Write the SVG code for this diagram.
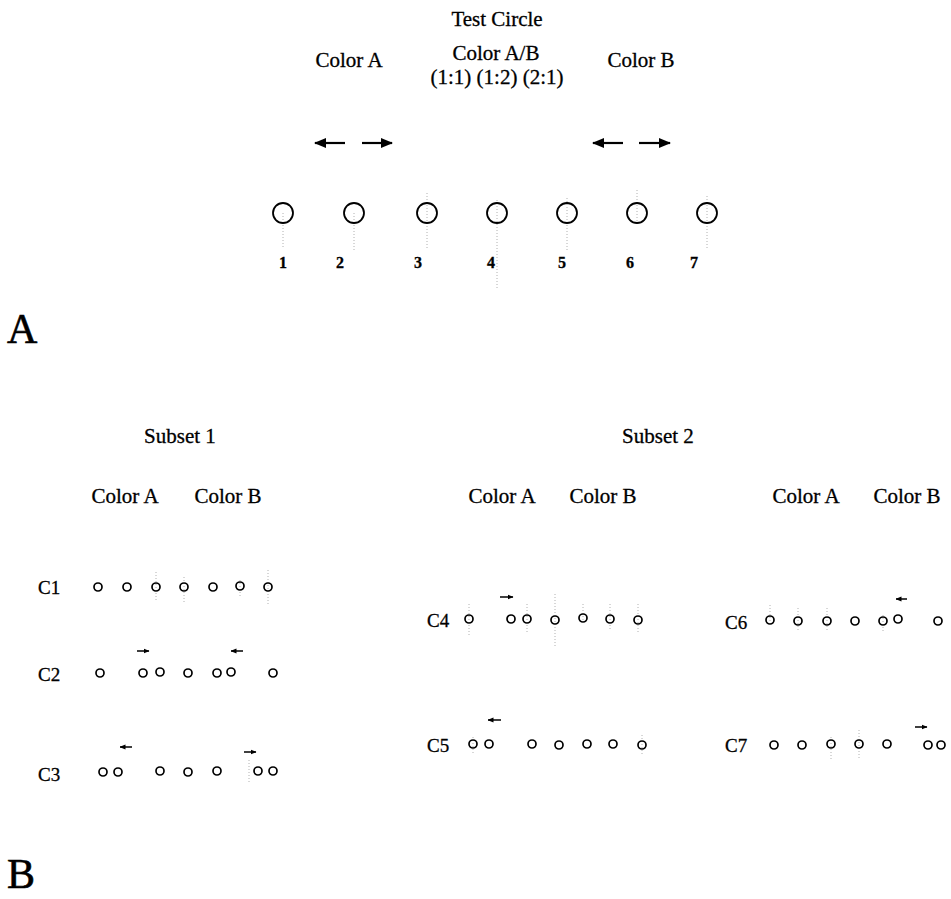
<svg xmlns="http://www.w3.org/2000/svg" width="951" height="899" viewBox="0 0 951 899">
<style>
text{font-family:"Liberation Serif","Times New Roman",serif;fill:#000;stroke:#000;stroke-width:0.3}
.lbl{font-size:21px;text-anchor:middle}
.num{font-size:16px;font-weight:bold;text-anchor:middle}
.row{font-size:19px}
.big{font-size:42px;stroke-width:0.6}
.c{fill:none;stroke:#000;stroke-width:1.8}
.s{fill:none;stroke:#000;stroke-width:1.7}
.dot{stroke:#b0b0b0;stroke-width:1;stroke-dasharray:1 2}
.arB{stroke:#000;stroke-width:2.2;marker-end:url(#hb)}
.arS{stroke:#000;stroke-width:1.5;marker-end:url(#hs)}
</style>
<defs>
<marker id="hb" markerUnits="userSpaceOnUse" markerWidth="12" markerHeight="10" refX="11" refY="5" orient="auto"><path d="M0,0 L12,5 L0,10 Z" fill="#000"/></marker>
<marker id="hs" markerUnits="userSpaceOnUse" markerWidth="6" markerHeight="6" refX="5.5" refY="3" orient="auto"><path d="M0,0.5 L6,3 L0,5.5 Z" fill="#000"/></marker>
</defs>
<rect width="951" height="899" fill="#fff"/>

<!-- Panel A -->
<g id="panelA-labels">
<text class="lbl" x="497" y="26">Test Circle</text>
<text class="lbl" x="349" y="67">Color A</text>
<text class="lbl" x="496" y="60">Color A/B</text>
<text class="lbl" x="497" y="84">(1:1) (1:2) (2:1)</text>
<text class="lbl" x="641" y="67">Color B</text>
</g>
<g id="panelA-arrows">
<line class="arB" x1="345" y1="143" x2="315" y2="143"/>
<line class="arB" x1="362" y1="143" x2="392" y2="143"/>
<line class="arB" x1="623" y1="143" x2="593" y2="143"/>
<line class="arB" x1="639" y1="143" x2="670" y2="143"/>
</g>
<g id="panelA-guides">
<line class="dot" x1="283" y1="213" x2="283" y2="247"/>
<line class="dot" x1="354" y1="213" x2="354" y2="250"/>
<line class="dot" x1="427" y1="193" x2="427" y2="248"/>
<line class="dot" x1="497" y1="200" x2="497" y2="290"/>
<line class="dot" x1="567" y1="198" x2="567" y2="252"/>
<line class="dot" x1="637" y1="190" x2="637" y2="222"/>
<line class="dot" x1="707" y1="196" x2="707" y2="248"/>
</g>
<g id="panelA-circles">
<circle class="c" cx="283" cy="213" r="10"/>
<circle class="c" cx="354" cy="213" r="10"/>
<circle class="c" cx="427" cy="213" r="10"/>
<circle class="c" cx="497" cy="213" r="10"/>
<circle class="c" cx="567" cy="213" r="10"/>
<circle class="c" cx="637" cy="213" r="10"/>
<circle class="c" cx="707" cy="213" r="10"/>
</g>
<g id="panelA-numbers">
<text class="num" x="283" y="268">1</text>
<text class="num" x="340" y="268">2</text>
<text class="num" x="418" y="268">3</text>
<text class="num" x="491" y="268">4</text>
<text class="num" x="562" y="268">5</text>
<text class="num" x="630" y="268">6</text>
<text class="num" x="694" y="268">7</text>
</g>
<text class="big" x="7" y="343">A</text>

<!-- Panel B -->
<g id="panelB-headings">
<text class="lbl" x="180" y="443">Subset 1</text>
<text class="lbl" x="658" y="443">Subset 2</text>
<text class="lbl" x="125" y="503">Color A</text>
<text class="lbl" x="228" y="503">Color B</text>
<text class="lbl" x="502" y="503">Color A</text>
<text class="lbl" x="603" y="503">Color B</text>
<text class="lbl" x="806" y="503">Color A</text>
<text class="lbl" x="907" y="503">Color B</text>
</g>

<g id="C1">
<text class="row" x="38" y="594">C1</text>
<line class="dot" x1="156" y1="572" x2="156" y2="600"/>
<line class="dot" x1="184" y1="577" x2="184" y2="602"/>
<line class="dot" x1="240" y1="580" x2="240" y2="598"/>
<line class="dot" x1="268" y1="570" x2="268" y2="604"/>
<circle class="s" cx="98" cy="587" r="4"/>
<circle class="s" cx="127" cy="587" r="4"/>
<circle class="s" cx="156" cy="587" r="4"/>
<circle class="s" cx="184" cy="587" r="4"/>
<circle class="s" cx="213" cy="587" r="4"/>
<circle class="s" cx="240" cy="586" r="4"/>
<circle class="s" cx="268" cy="587" r="4"/>
</g>

<g id="C2">
<text class="row" x="38" y="681">C2</text>
<line class="arS" x1="137" y1="651" x2="149" y2="651"/>
<line class="arS" x1="243" y1="651" x2="231" y2="651"/>
<circle class="s" cx="100" cy="673" r="4"/>
<circle class="s" cx="143" cy="673" r="4"/>
<circle class="s" cx="160" cy="672" r="4"/>
<circle class="s" cx="188" cy="673" r="4"/>
<circle class="s" cx="217" cy="673" r="4"/>
<circle class="s" cx="231" cy="672" r="4"/>
<circle class="s" cx="273" cy="673" r="4"/>
</g>

<g id="C3">
<text class="row" x="38" y="781">C3</text>
<line class="arS" x1="132" y1="747" x2="120" y2="747"/>
<line class="arS" x1="244" y1="752" x2="256" y2="752"/>
<line class="dot" x1="249" y1="760" x2="249" y2="782"/>
<circle class="s" cx="103" cy="772" r="4"/>
<circle class="s" cx="118" cy="772" r="4"/>
<circle class="s" cx="160" cy="771" r="4"/>
<circle class="s" cx="188" cy="772" r="4"/>
<circle class="s" cx="217" cy="771" r="4"/>
<circle class="s" cx="258" cy="771" r="4"/>
<circle class="s" cx="273" cy="771" r="4"/>
</g>

<g id="C4">
<text class="row" x="427" y="627">C4</text>
<line class="arS" x1="500" y1="597" x2="513" y2="597"/>
<line class="dot" x1="469" y1="604" x2="469" y2="635"/>
<line class="dot" x1="527" y1="604" x2="527" y2="633"/>
<line class="dot" x1="555" y1="594" x2="555" y2="646"/>
<line class="dot" x1="583" y1="604" x2="583" y2="622"/>
<line class="dot" x1="610" y1="604" x2="610" y2="630"/>
<line class="dot" x1="638" y1="604" x2="638" y2="633"/>
<circle class="s" cx="469" cy="619" r="4"/>
<circle class="s" cx="511" cy="619" r="4"/>
<circle class="s" cx="527" cy="619" r="4"/>
<circle class="s" cx="555" cy="620" r="4"/>
<circle class="s" cx="583" cy="618" r="4"/>
<circle class="s" cx="610" cy="619" r="4"/>
<circle class="s" cx="638" cy="620" r="4"/>
</g>

<g id="C5">
<text class="row" x="427" y="752">C5</text>
<line class="arS" x1="501" y1="720" x2="488" y2="720"/>
<line class="dot" x1="473" y1="737" x2="473" y2="753"/>
<line class="dot" x1="642" y1="735" x2="642" y2="756"/>
<circle class="s" cx="473" cy="744" r="4"/>
<circle class="s" cx="489" cy="744" r="4"/>
<circle class="s" cx="532" cy="744" r="4"/>
<circle class="s" cx="559" cy="745" r="4"/>
<circle class="s" cx="587" cy="744" r="4"/>
<circle class="s" cx="613" cy="744" r="4"/>
<circle class="s" cx="642" cy="745" r="4"/>
</g>

<g id="C6">
<text class="row" x="725" y="629">C6</text>
<line class="arS" x1="907" y1="599" x2="896" y2="599"/>
<line class="dot" x1="770" y1="605" x2="770" y2="622"/>
<line class="dot" x1="798" y1="608" x2="798" y2="632"/>
<line class="dot" x1="827" y1="608" x2="827" y2="632"/>
<line class="dot" x1="883" y1="615" x2="883" y2="632"/>
<circle class="s" cx="770" cy="620" r="4"/>
<circle class="s" cx="798" cy="621" r="4"/>
<circle class="s" cx="827" cy="621" r="4"/>
<circle class="s" cx="855" cy="621" r="4"/>
<circle class="s" cx="883" cy="621" r="4"/>
<circle class="s" cx="898" cy="619" r="4"/>
<circle class="s" cx="938" cy="621" r="4"/>
</g>

<g id="C7">
<text class="row" x="725" y="752">C7</text>
<line class="arS" x1="915" y1="727" x2="927" y2="727"/>
<line class="dot" x1="831" y1="737" x2="831" y2="760"/>
<line class="dot" x1="859" y1="730" x2="859" y2="760"/>
<circle class="s" cx="774" cy="745" r="4"/>
<circle class="s" cx="802" cy="745" r="4"/>
<circle class="s" cx="831" cy="744" r="4"/>
<circle class="s" cx="859" cy="744" r="4"/>
<circle class="s" cx="887" cy="744" r="4"/>
<circle class="s" cx="928" cy="745" r="4"/>
<circle class="s" cx="941" cy="745" r="4"/>
</g>

<text class="big" x="7" y="888">B</text>
</svg>
